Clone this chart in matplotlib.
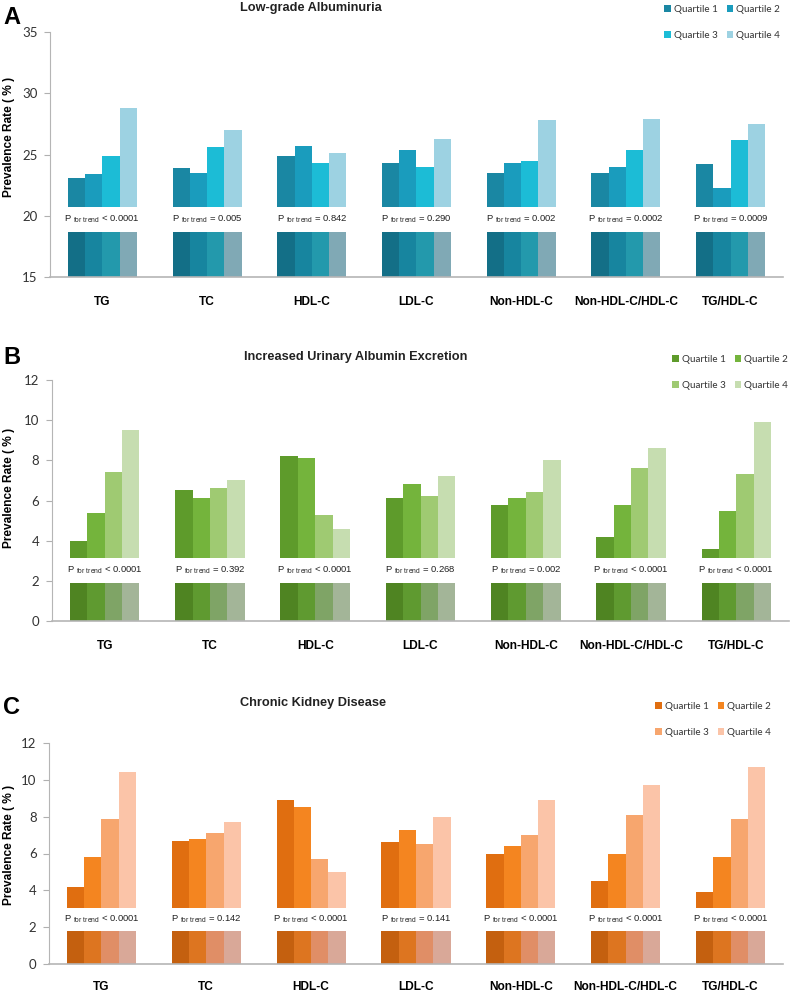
import numpy as np
import matplotlib
matplotlib.use("Agg")
import matplotlib.pyplot as plt
from matplotlib.patches import Patch

plt.rcParams['mathtext.fontset'] = 'custom'
plt.rcParams['mathtext.rm'] = 'Liberation Sans'

categories = ['TG', 'TC', 'HDL-C', 'LDL-C', 'Non-HDL-C', 'Non-HDL-C/HDL-C', 'TG/HDL-C']
quartiles = ['Quartile 1', 'Quartile 2', 'Quartile 3', 'Quartile 4']

# panel A - low-grade albuminuria (rows = quartiles)
lga_q1 = [23.1, 23.9, 24.9, 24.3, 23.5, 23.5, 24.2]
lga_q2 = [23.4, 23.5, 25.7, 25.4, 24.3, 24.0, 22.3]
lga_q3 = [24.9, 25.6, 24.3, 24.0, 24.5, 25.4, 26.2]
lga_q4 = [28.8, 27.0, 25.1, 26.3, 27.8, 27.9, 27.5]
lga_p = ['< 0.0001', '= 0.005', '= 0.842', '= 0.290', '= 0.002', '= 0.0002', '= 0.0009']

# panel B - increased urinary albumin excretion
iuae_q1 = [4.0, 6.5, 8.2, 6.1, 5.8, 4.2, 3.6]
iuae_q2 = [5.4, 6.1, 8.1, 6.8, 6.1, 5.8, 5.5]
iuae_q3 = [7.4, 6.6, 5.3, 6.2, 6.4, 7.6, 7.3]
iuae_q4 = [9.5, 7.0, 4.6, 7.2, 8.0, 8.6, 9.9]
iuae_p = ['< 0.0001', '= 0.392', '< 0.0001', '= 0.268', '= 0.002', '< 0.0001', '< 0.0001']

# panel C - chronic kidney disease
ckd_q1 = [4.2, 6.7, 8.9, 6.6, 6.0, 4.5, 3.9]
ckd_q2 = [5.8, 6.8, 8.5, 7.3, 6.4, 6.0, 5.8]
ckd_q3 = [7.9, 7.1, 5.7, 6.5, 7.0, 8.1, 7.9]
ckd_q4 = [10.4, 7.7, 5.0, 8.0, 8.9, 9.7, 10.7]
ckd_p = ['< 0.0001', '= 0.142', '< 0.0001', '= 0.141', '< 0.0001', '< 0.0001', '< 0.0001']

W, H = 791, 992
fig = plt.figure(figsize=(W / 100, H / 100), dpi=100)


def fx(px):
    return px / W


def fy(py):
    return 1 - py / H


panels = [
    dict(data=[lga_q1, lga_q2, lga_q3, lga_q4], p=lga_p, title='Low-grade Albuminuria', letter='A',
         box=(50, 32, 783, 277), ylim=(15, 35), ticks=[15, 20, 25, 30, 35], band=(18.65, 20.7),
         colors=['#1a87a3', '#1a9cbd', '#1cbcd6', '#9dd2e2'],
         dark=['#136f87', '#17859f', '#2399ac', '#80a9b5'],
         title_xy=(311, 8), letter_xy=(3, 17), leg_xy=(657, -2), pad=14, ylab_y=0.571),
    dict(data=[iuae_q1, iuae_q2, iuae_q3, iuae_q4], p=iuae_p, title='Increased Urinary Albumin Excretion', letter='B',
         box=(52, 380, 789, 621), ylim=(0, 12), ticks=[0, 2, 4, 6, 8, 10, 12], band=(1.88, 3.15),
         colors=['#5e9b2b', '#74b43c', '#9fca72', '#c6ddb0'],
         dark=['#4f8422', '#5f9a30', '#7fa466', '#a3b598'],
         title_xy=(356, 357), letter_xy=(3, 358), leg_xy=(665, 348), pad=13.5, ylab_y=0.552),
    dict(data=[ckd_q1, ckd_q2, ckd_q3, ckd_q4], p=ckd_p, title='Chronic Kidney Disease', letter='C',
         box=(49, 743, 783, 964), ylim=(0, 12), ticks=[0, 2, 4, 6, 8, 10, 12], band=(1.77, 3.04),
         colors=['#e06e10', '#f48520', '#f7a66e', '#fbc4a8'],
         dark=['#c4600f', '#dd7520', '#e08e66', '#d9a898'],
         title_xy=(313, 703), letter_xy=(3, 708), leg_xy=(648, 695), pad=12, ylab_y=0.538),
]

x = np.arange(len(categories))
w = 0.165

for pn in panels:
    l, t, r, b = pn['box']
    ax = fig.add_axes([fx(l), fy(b), (r - l) / W, (b - t) / H])
    ymin, ymax = pn['ylim']
    lo, hi = pn['band']
    for j, vals in enumerate(pn['data']):
        vals = np.array(vals)
        xs = x + (j - 1.5) * w
        ax.bar(xs, vals - hi, bottom=hi, width=w, color=pn['colors'][j], linewidth=0)
        ax.bar(xs, np.full(len(vals), lo - ymin), bottom=ymin, width=w, color=pn['dark'][j], linewidth=0)
    for i, ptxt in enumerate(pn['p']):
        ax.text(i, (lo + hi) / 2, r'P $_{\mathregular{for\ trend}}$ ' + ptxt, ha='center', va='center',
                fontsize=6.8, family='Liberation Sans', color='#222222')
    ax.set_xlim(-0.5, 6.5)
    ax.set_ylim(ymin, ymax)
    ax.set_yticks(pn['ticks'])
    ax.set_xticks(x)
    ax.set_xticklabels(categories, fontsize=8.6, fontweight='bold', family='Liberation Sans')
    ax.tick_params(axis='x', length=0, pad=pn['pad'])
    ax.tick_params(axis='y', length=4, color='#b0b0b0', labelsize=9.5, labelcolor='#333333', pad=5)
    for lab in ax.get_yticklabels():
        lab.set_family('Lato')
    for s in ['top', 'right']:
        ax.spines[s].set_visible(False)
    ax.spines['left'].set_color('#b5b5b5')
    ax.spines['bottom'].set_color('#b5b5b5')
    ax.spines['bottom'].set_linewidth(1.2)
    ax.set_ylabel('Prevalence Rate ( % )', fontsize=8.6, fontweight='bold', family='Liberation Sans')
    ax.yaxis.set_label_coords(-(l - 15) / (r - l), pn['ylab_y'])

    fig.text(fx(pn['title_xy'][0]), fy(pn['title_xy'][1]), pn['title'], ha='center', va='center',
             fontsize=9.2, fontweight='bold', family='Liberation Sans', color='#222222')
    fig.text(fx(pn['letter_xy'][0]), fy(pn['letter_xy'][1]), pn['letter'], ha='left', va='center',
             fontsize=17, fontweight='bold', family='Liberation Sans')

    # ncol=2 fills columns first, so reorder to get Q1 Q2 / Q3 Q4 rows
    order = [0, 2, 1, 3]
    handles = [Patch(facecolor=pn['colors'][k], edgecolor='none') for k in order]
    labels = [quartiles[k] for k in order]
    fig.legend(handles, labels, loc='upper left', ncol=2,
               bbox_to_anchor=(fx(pn['leg_xy'][0]), fy(pn['leg_xy'][1])),
               frameon=False, handlelength=0.7, handleheight=0.7,
               handletextpad=0.3, columnspacing=0.9, labelspacing=1.7, borderpad=0.2,
               prop={'family': 'Lato', 'size': 7.1}, labelcolor='#333333')

fig.savefig('out.png', dpi=100)
